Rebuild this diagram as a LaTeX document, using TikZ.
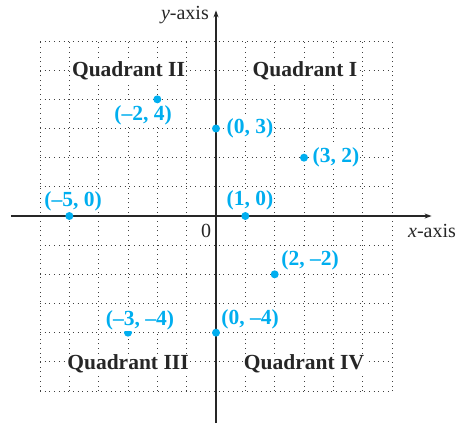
\documentclass[tikz,border=0pt]{standalone}
\usepackage{fontspec}
\setmainfont{Liberation Serif}
\usetikzlibrary{arrows.meta}
\definecolor{ptblue}{HTML}{00AEEF}
\begin{document}
\begin{tikzpicture}[x=1pt,y=-1pt,
 gridline/.style={line width=0.8pt, dash pattern=on 0.8pt off 3.9pt, black!75},
 axisline/.style={line width=1.3pt, black!85, -{Stealth[length=7pt,width=5pt]}},
 quad/.style={fill=white, inner sep=1pt, font=\fontsize{21.5}{23}\selectfont\bfseries, text=black!85},
 ptlabel/.style={fill=white, inner sep=1pt, font=\fontsize{21.5}{23}\selectfont\bfseries, text=ptblue},
 pt/.style={circle, fill=ptblue, inner sep=0pt, minimum size=8pt},
 axlabel/.style={font=\fontsize{20}{22}\selectfont, text=black!85, inner sep=0pt}]
\useasboundingbox (0,0) rectangle (457,424);
\begin{scope}[shift={(216,216)}, x=29.333pt, y=29.167pt]
  \foreach \i in {-6,...,6} {
    \draw[gridline] (\i,-6) -- (\i,6);
    \draw[gridline] (-6,\i) -- (6,\i);
  }
  \coordinate (xs) at (-6.99,0);
  \coordinate (xe) at (7.35,0);
  \coordinate (ys) at (0,-7.1);
  \coordinate (ye) at (0,7.05);
  \draw[axisline] (xs) -- (xe);
  \draw[axisline] (ys) -- (ye);
  \node[pt] (p1) at (-2,4) {};
  \node[pt] (p2) at (0,3) {};
  \node[pt] (p3) at (3,2) {};
  \node[pt] (p4) at (-5,0) {};
  \node[pt] (p5) at (1,0) {};
  \node[pt] (p6) at (2,-2) {};
  \node[pt] (p7) at (-3,-4) {};
  \node[pt] (p8) at (0,-4) {};
\end{scope}
\node[quad] (q2) at (128.5,71) {Quadrant II};
\node[quad] (q1) at (305,71) {Quadrant I};
\node[quad] (q3) at (128,364) {Quadrant III};
\node[quad] (q4) at (304,364) {Quadrant IV};
\node[ptlabel] (l1) at (143,115) {(–2, 4)};
\node[ptlabel] (l2) at (250,128) {(0, 3)};
\node[ptlabel] (l3) at (336,157) {(3, 2)};
\node[ptlabel] (l4) at (73,201) {(–5, 0)};
\node[ptlabel] (l5) at (250,200) {(1, 0)};
\node[ptlabel] (l6) at (310,260) {(2, –2)};
\node[ptlabel] (l7) at (140,320) {(–3, –4)};
\node[ptlabel] (l8) at (250,319) {(0, –4)};
\node[axlabel] (o) at (206,231) {0};
\node[axlabel, anchor=west] (xl) at (408,231) {\textit{x}-axis};
\node[axlabel, anchor=east] (yl) at (209,15) {\textit{y}-axis};
\end{tikzpicture}
\end{document}
